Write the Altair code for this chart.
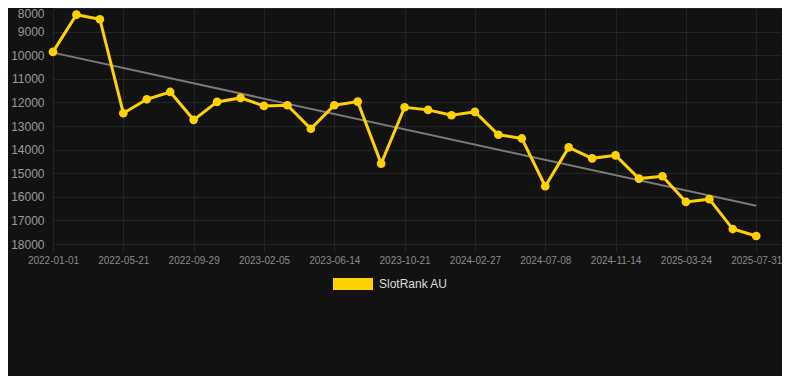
import altair as alt
import pandas as pd

# ---- data ----
dates = [
    "2022-01-01", "2022-02-16", "2022-04-04",
    "2022-05-21", "2022-07-04", "2022-08-16",
    "2022-09-29", "2022-11-11", "2022-12-24",
    "2023-02-05", "2023-03-20", "2023-05-02",
    "2023-06-14", "2023-07-27", "2023-09-08",
    "2023-10-21", "2023-12-03", "2024-01-15",
    "2024-02-27", "2024-04-10", "2024-05-24",
    "2024-07-08", "2024-08-20", "2024-10-02",
    "2024-11-14", "2024-12-27", "2025-02-09",
    "2025-03-24", "2025-05-06", "2025-06-18",
    "2025-07-31",
]
ranks = [
    9857, 8283, 8477,
    12459, 11869, 11557,
    12738, 11979, 11810,
    12148, 12122, 13118,
    12122, 11966, 14595,
    12207, 12317, 12544,
    12401, 13371, 13527,
    15553, 13907, 14371,
    14245, 15228, 15130,
    16215, 16101, 17367,
    17662,
]
series_name = "SlotRank AU"
y_ticks = [8000, 9000, 10000, 11000, 12000, 13000, 14000, 15000, 16000, 17000, 18000]

df = pd.DataFrame({
    "idx": list(range(len(dates))),
    "date": dates,
    "rank": ranks,
    "series": [series_name] * len(dates),
})

YELLOW = "#FFD100"
GRID = "#242424"
label_expr = "[" + ",".join("'" + d + "'" for d in dates) + "][datum.value]"

x_enc = alt.X(
    "idx:Q",
    scale=alt.Scale(domain=[0, 31.1], nice=False, zero=False),
    axis=alt.Axis(
        title=None,
        values=list(range(0, len(dates), 3)),
        labelExpr=label_expr,
        grid=True,
        gridColor=GRID,
        domain=False,
        ticks=True,
        tickSize=8,
        tickColor=GRID,
        labelPadding=3,
        labelFontSize=10,
        labelColor="#8a8a8a",
        labelFont="Liberation Sans",
        labelOverlap=False,
        labelFlush=False,
    ),
)
y_enc = alt.Y(
    "rank:Q",
    scale=alt.Scale(domain=[8000, 18000], reverse=True, nice=False, zero=False),
    axis=alt.Axis(
        title=None,
        values=y_ticks,
        format="d",
        grid=True,
        gridColor=GRID,
        domain=False,
        ticks=False,
        labelPadding=9,
        labelFontSize=12,
        labelColor="#9a9a9a",
        labelFont="Liberation Sans",
        labelFlush=False,
        labelBaseline={
            "condition": {"test": "datum.value == 8000", "value": "top"},
            "value": "middle",
        },
    ),
)

base = alt.Chart(df)

trend = base.transform_regression("idx", "rank").mark_line(
    color="#7a7a7a", strokeWidth=2
).encode(x=x_enc, y=y_enc)

line = base.mark_line(color=YELLOW, strokeWidth=3).encode(x=x_enc, y=y_enc)

points = base.mark_circle(size=75, opacity=1).encode(
    x=x_enc,
    y=y_enc,
    color=alt.Color(
        "series:N",
        scale=alt.Scale(range=[YELLOW]),
        legend=alt.Legend(
            title=None,
            orient="none",
            legendX=280,
            legendY=256,
            padding=0,
            symbolType="M-1,-0.3H1V0.3H-1Z",
            symbolSize=1600,
            symbolStrokeWidth=0,
            symbolOpacity=1,
            labelOffset=6,
            labelFontSize=12,
            labelColor="#dddddd",
            labelFont="Liberation Sans",
        ),
    ),
)

chart = (
    alt.layer(trend, line, points)
    .properties(
        width=729,
        height=236,
        autosize=alt.AutoSizeParams(type="none"),
        padding={"left": 45, "top": 0, "right": 0, "bottom": 132},
        background="#121212",
    )
    .configure_view(stroke="transparent")
)

chart.save("out.html", embed_options={"renderer": "svg", "actions": False})
